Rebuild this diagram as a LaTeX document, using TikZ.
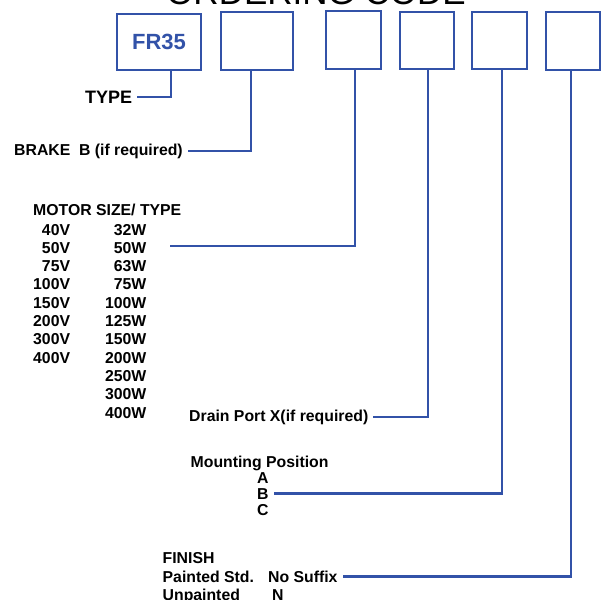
\documentclass[tikz,border=0pt]{standalone}
\usepackage{fontspec}
\setmainfont{Liberation Sans}
\definecolor{codeblue}{RGB}{50,82,168}

\tikzstyle{box} = [rectangle, draw=codeblue, line width=2.6pt, minimum width=55pt, minimum height=57pt, inner sep=0pt]
\tikzstyle{line} = [draw, line width=2.5pt, color=codeblue, shorten >=5pt]
\tikzstyle{lbl} = [anchor=base west, inner sep=0pt, font=\bfseries\fontsize{15.8}{18.3}\selectfont]

\begin{document}
\begin{tikzpicture}[x=1pt, y=-1pt]
	\useasboundingbox (0,0) rectangle (606,600);
	% Title
	\node [anchor=base, inner sep=0pt, font=\fontsize{35}{40}\selectfont] (Title) at (316,4) {ORDERING CODE};

	% Boxes
	\node [box, minimum width=84pt, minimum height=56pt, text=codeblue, font=\bfseries\fontsize{22}{26}\selectfont] (TypeBox) at (159,42) {FR35};
	\node [box, minimum width=72pt, minimum height=58pt] (BrakeBox) at (257,41) {};
	\node [box, minimum height=58pt] (MotorBox) at (353.5,40) {};
	\node [box, minimum width=54pt] (DrainBox) at (427,40.5) {};
	\node [box] (MountBox) at (499.5,40.5) {};
	\node [box, minimum width=54pt, minimum height=58pt] (FinishBox) at (573,41) {};

	% Labels
	\node [lbl, font=\bfseries\fontsize{18}{21}\selectfont] (TypeLbl) at (85,103) {TYPE};
	\node [lbl] (BrakeLbl) at (14,155) {BRAKE\ \ B (if required)};
	\node [lbl] (MotorLbl) at (33,215) {\begin{tabular}[t]{@{}r@{\hspace{35pt}}r@{}}
		\multicolumn{2}{@{}l@{}}{\makebox[0pt][l]{MOTOR SIZE/ TYPE}}\\[1.7pt]
		40V & 32W\\
		50V & 50W\\
		75V & 63W\\
		100V & 75W\\
		150V & 100W\\
		200V & 125W\\
		300V & 150W\\
		400V & 200W\\
		 & 250W\\
		 & 300W\\
		 & 400W
	\end{tabular}};
	\coordinate (MotorEnd) at (170,246);
	\node [lbl] (DrainLbl) at (189,421) {Drain Port X(if required)};
	\node [lbl] (MountLbl) at (190.5,467) {Mounting Position};
	\node [lbl] (MountA) at (257,483) {A};
	\node [lbl] (MountB) at (257,499) {B};
	\node [lbl] (MountC) at (257,515) {C};
	\node [lbl] (FinishLbl) at (162.5,563) {FINISH};
	\node [lbl] (Painted) at (162.5,582) {Painted Std.};
	\node [lbl] (NoSuffix) at (268,582) {No Suffix};
	\node [lbl] (Unpainted) at (162.5,600) {Unpainted};
	\node [lbl] (UnpaintedN) at (272,600) {N};

	% Lines
	\path [line] ([xshift=12pt]TypeBox.south) |- (TypeLbl.east);
	\path [line] ([xshift=-6pt]BrakeBox.south) |- (BrakeLbl.east);
	\path [line, shorten >=0pt] ([xshift=1.5pt]MotorBox.south) |- (MotorEnd);
	\path [line] ([xshift=1pt]DrainBox.south) |- (DrainLbl.east);
	\path [line] ([xshift=2.5pt]MountBox.south) |- (MountB.east);
	\path [line] ([xshift=-2pt]FinishBox.south) |- (NoSuffix.east);
\end{tikzpicture}
\end{document}
